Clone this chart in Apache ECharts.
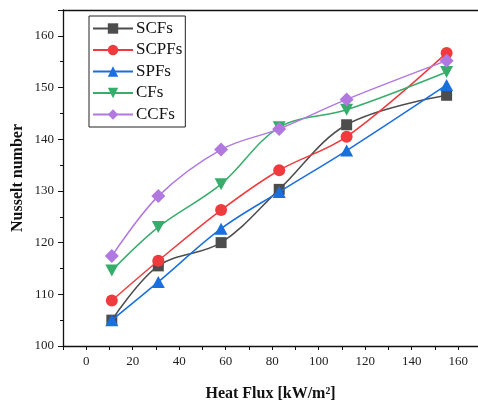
<!DOCTYPE html>
<html><head><meta charset="utf-8">
<script src="https://cdn.jsdelivr.net/npm/echarts@6/dist/echarts.min.js"></script>
<style>html,body{margin:0;padding:0;background:#fff}#c{width:478px;height:404px}</style>
</head><body><div id="c"></div>
<script>
const heatFlux = [11, 31, 58, 83, 112, 155];
const SCFs  = [105.0, 115.5, 120.0, 130.3, 142.8, 148.5];
const SCPFs = [108.8, 116.5, 126.3, 134.0, 140.5, 156.7];
const SPFs  = [105.0, 112.4, 122.7, 129.8, 137.8, 150.5];
const CFs   = [114.6, 123.0, 131.3, 142.3, 145.7, 153.0];
const CCFs  = [117.4, 129.0, 138.0, 142.0, 147.7, 155.2];
const seriesNames = ['SCFs', 'SCPFs', 'SPFs', 'CFs', 'CCFs'];
const seriesData = [SCFs, SCPFs, SPFs, CFs, CCFs];
const colors = ['#4d4d4d', '#ef3b3d', '#1a6fdf', '#37ad6b', '#b178e0'];
const symbols = ['rect', 'circle', 'triangle', 'path://M0,0L20,0L10,17Z', 'diamond'];
const sizes = [11, 12, [13, 12], [13, 12], 14];
const FONT = 'Liberation Serif';

const series = seriesNames.map((n, i) => ({
  name: n, type: 'line', smooth: 0.35,
  data: heatFlux.map((x, j) => [x, seriesData[i][j]]),
  symbol: symbols[i],
  symbolSize: sizes[i],
  lineStyle: { color: colors[i], width: 1.5 },
  itemStyle: { color: colors[i] },
  z: 2 + i
}));

const chart = echarts.init(document.getElementById('c'), null, { renderer: 'canvas' });
chart.setOption({
  animation: false,
  backgroundColor: '#fff',
  grid: { left: 63, right: 0, top: 10, bottom: 58, containLabel: false, outerBoundsMode: 'none' },
  legend: {
    orient: 'vertical', left: 89, top: 16,
    data: seriesNames,
    itemWidth: 40, itemHeight: 13, itemGap: 4.5,
    padding: [4, 3, 4, 3],
    borderColor: '#222', borderWidth: 1,
    textStyle: { fontFamily: FONT, fontSize: 17, color: '#111', padding: [0, 0, 0, -2] }
  },
  xAxis: [{
    type: 'value', min: -10, max: 168.5, interval: 10,
    name: 'Heat Flux [kW/m²]', nameLocation: 'middle', nameGap: 40, nameMoveOverlap: false,
    nameTextStyle: { fontFamily: FONT, fontSize: 16, fontWeight: 'bold', color: '#111' },
    axisLine: { onZero: false, lineStyle: { color: '#111', width: 1.3 } },
    axisTick: { show: true, length: 4, lineStyle: { color: '#111' } },
    axisLabel: { fontFamily: FONT, fontSize: 13, color: '#222', margin: 9,
      formatter: v => (Math.round(v) === v && v % 20 === 0 && v >= 0 && v <= 160) ? String(v) : '' },
    splitLine: { show: false }
  }, {
    type: 'value', position: 'top', min: -10, max: 168.5,
    axisLine: { show: true, lineStyle: { color: '#111', width: 1.3 } },
    axisTick: { show: false }, axisLabel: { show: false }, splitLine: { show: false }
  }],
  yAxis: {
    type: 'value', min: 100, max: 165, interval: 10,
    name: 'Nusselt number', nameLocation: 'middle', nameGap: 37, nameMoveOverlap: false,
    nameTextStyle: { fontFamily: FONT, fontSize: 16, fontWeight: 'bold', color: '#111' },
    axisLine: { show: true, onZero: false, lineStyle: { color: '#111', width: 1.3 } },
    axisTick: { show: true, length: 5, lineStyle: { color: '#111' } },
    minorTick: { show: true, splitNumber: 2, length: 3, lineStyle: { color: '#111' } },
    axisLabel: { fontFamily: FONT, fontSize: 13, color: '#222', margin: 9,
      formatter: v => (v % 10 === 0) ? String(v) : '' },
    splitLine: { show: false }
  },
  series: series
});
</script></body></html>
